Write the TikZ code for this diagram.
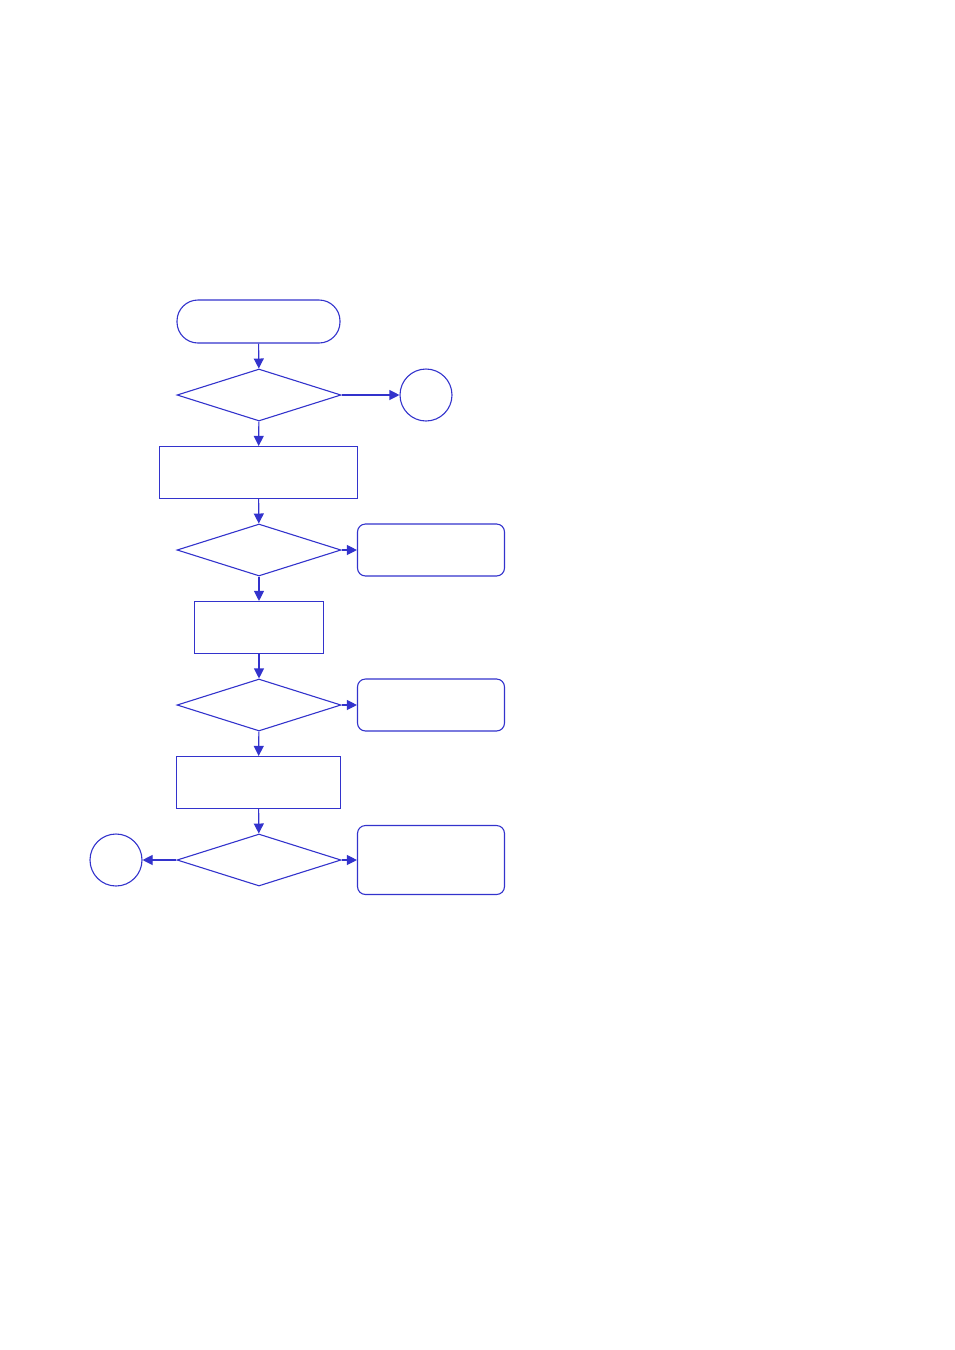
\documentclass[tikz,border=0pt]{standalone}
\usetikzlibrary{shapes.geometric,arrows.meta}
\definecolor{fc}{RGB}{51,51,204}
\begin{document}
\begin{tikzpicture}[x=1pt,y=-1pt,
  every node/.style={draw=fc,line width=1.1pt,inner sep=0pt},
  proc/.style={rectangle,minimum height=52pt},
  decide/.style={diamond,minimum width=164pt,minimum height=52pt},
  term/.style={rectangle,rounded corners=21pt,minimum width=163pt,minimum height=43pt},
  alt/.style={rectangle,rounded corners=8pt,minimum width=147pt},
  conn/.style={circle,minimum size=52pt},
  arr/.style={draw=fc,line width=1.1pt,-{Triangle[length=10pt,width=10pt]},fill=fc}]
\path[use as bounding box] (0,0) rectangle (954,1350);
\node[term] (t) at (258.5,321.5) {};
\node[decide] (d1) at (259,395) {};
\node[conn] (c1) at (426,395) {};
\node[proc,minimum width=198pt] (r1) at (258.5,472.5) {};
\node[decide] (d2) at (259,550) {};
\node[alt,minimum height=52pt] (a1) at (431,550) {};
\node[proc,minimum width=129pt] (r2) at (259,627.5) {};
\node[decide] (d3) at (259,705) {};
\node[alt,minimum height=52pt] (a2) at (431,705) {};
\node[proc,minimum width=164pt] (r3) at (258.5,782.5) {};
\node[decide] (d4) at (259,860) {};
\node[alt,minimum height=69pt] (a3) at (431,860) {};
\node[conn] (c2) at (116,860) {};
\draw[arr] (t) -- (d1);
\draw[arr] (d1) -- (c1);
\draw[arr] (d1) -- (r1);
\draw[arr] (r1) -- (d2);
\draw[arr] (d2) -- (a1);
\draw[arr] (d2) -- (r2);
\draw[arr] (r2) -- (d3);
\draw[arr] (d3) -- (a2);
\draw[arr] (d3) -- (r3);
\draw[arr] (r3) -- (d4);
\draw[arr] (d4) -- (a3);
\draw[arr] (d4) -- (c2);
\end{tikzpicture}
\end{document}
